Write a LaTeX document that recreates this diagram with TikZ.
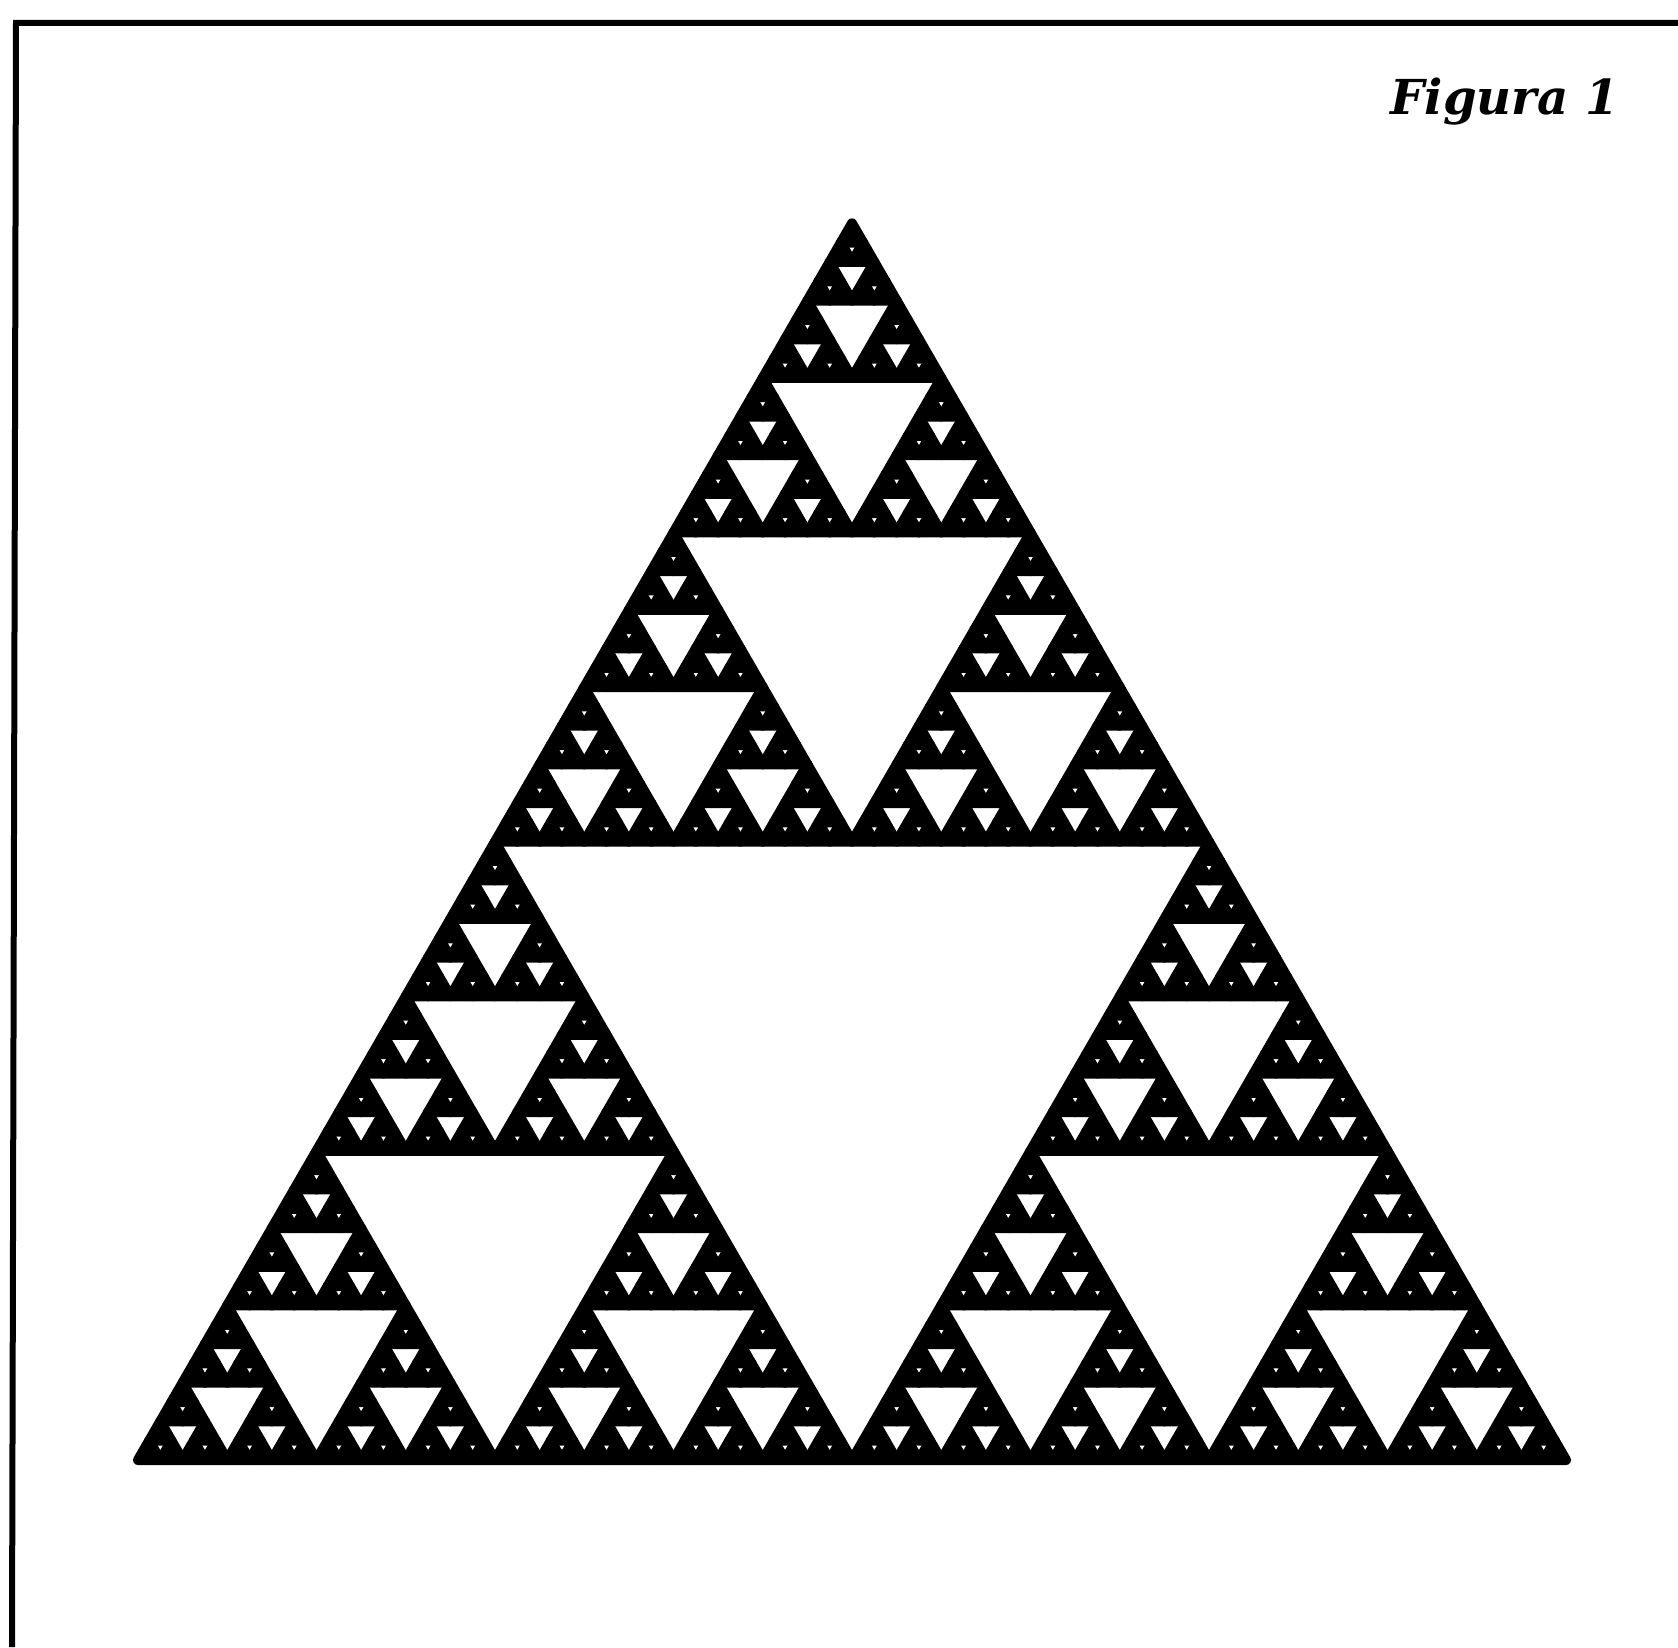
\documentclass[tikz,border=0pt]{standalone}
\usepackage{fontspec}
\setmainfont{DejaVu Serif}

\tikzset{
  tri/.style={fill=black,draw=black,line width=0.1cm,line join=round},
  marco/.style={draw=black,line width=0.06cm}
}

\newcommand\sierpinski[1]{%
  \ifnum\numexpr#1\relax=0
    \filldraw[tri] (0,0) -- (1,0) -- (60:1) -- cycle;
  \else
    \begin{scope}[scale=0.5]
      \sierpinski{#1-1}
      \begin{scope}[xshift=1cm]\sierpinski{#1-1}\end{scope}
      \begin{scope}[xshift=0.5cm,yshift=0.8660254cm]\sierpinski{#1-1}\end{scope}
    \end{scope}
  \fi}

\begin{document}
\begin{tikzpicture}
            \useasboundingbox (0,0) rectangle (16.78,16.47);
            \draw[marco] (16.78,16.24) -- (0.16,16.24) -- (0.12,0);
            \node[anchor=base west,inner sep=0pt,font=\bfseries\itshape\fontsize{13.7}{16}\selectfont] (fig) at (13.90,15.32) {Figura 1};
            \begin{scope}[xshift=1.38cm,yshift=1.87cm,scale=14.28]
                \sierpinski{6}
            \end{scope}
        \end{tikzpicture}
\end{document}
